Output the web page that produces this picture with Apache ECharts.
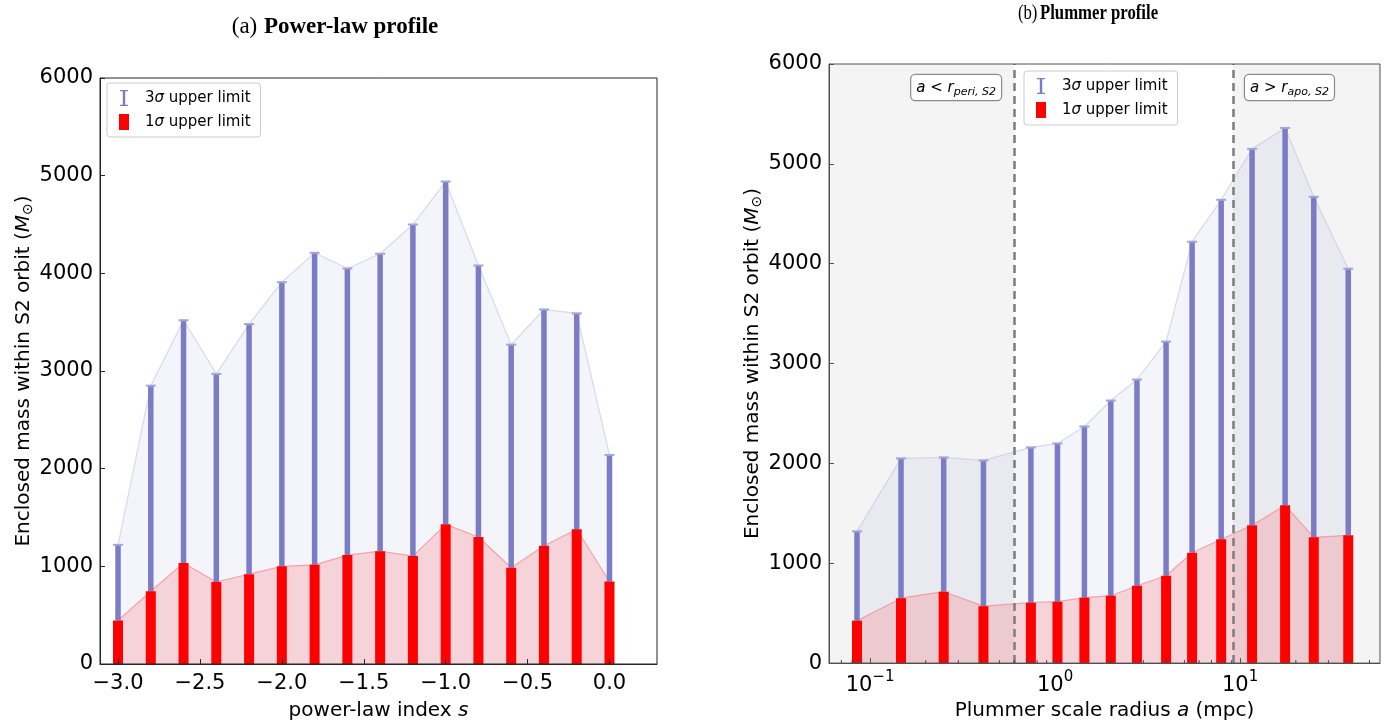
<!DOCTYPE html>
<html>
<head>
<meta charset="utf-8">
<script src="https://cdn.jsdelivr.net/npm/echarts@6/dist/echarts.min.js"></script>
<style>
  html, body { margin: 0; padding: 0; background: #ffffff; }
  #chart { width: 1397px; height: 726px; }
</style>
</head>
<body>
<div id="chart"></div>
<script>
// ---- (a) power-law profile: enclosed mass upper limits vs. power-law index s
const POWER_INDEX = [-3.0, -2.8, -2.6, -2.4, -2.2, -2.0, -1.8, -1.6, -1.4, -1.2, -1.0, -0.8, -0.6, -0.4, -0.2, 0.0];
const LAW_3SIGMA  = [1220, 2850, 3520, 2970, 3480, 3910, 4210, 4050, 4200, 4500, 4940, 4080, 3270, 3630, 3590, 2140];
const LAW_1SIGMA  = [445, 745, 1035, 840, 920, 1000, 1015, 1115, 1155, 1105, 1430, 1300, 985, 1210, 1380, 845];

// ---- (b) Plummer profile: enclosed mass upper limits vs. scale radius a (mpc)
const PLUMMER_A     = [0.085, 0.147, 0.25, 0.41, 0.74, 1.03, 1.44, 2.0, 2.77, 3.98, 5.5, 7.9, 11.6, 17.5, 25, 38.4];
const PLUM_3SIGMA   = [1320, 2050, 2060, 2030, 2160, 2200, 2370, 2630, 2840, 3220, 4220, 4640, 5150, 5360, 4670, 3950];
const PLUM_1SIGMA   = [425, 650, 715, 570, 605, 615, 655, 675, 775, 875, 1105, 1240, 1380, 1580, 1260, 1280];

// S2 pericentre / apocentre distances (mpc)
const R_PERI = 0.6;
const R_APO = 9.15;

// axis ranges and tick positions
const LAW_X_RANGE = [-3.11, 0.29];
const PLUM_X_RANGE = [0.06, 57];
const MASS_RANGE = [0, 6000];
const MASS_STEP = 1000;
const LOG_MINOR_TICKS = [0.07, 0.08, 0.09, 0.2, 0.3, 0.4, 0.5, 0.6, 0.7, 0.8, 0.9,
                         2, 3, 4, 5, 6, 7, 8, 9, 20, 30, 40, 50];

const NAME_3SIG = '3σ upper limit';
const NAME_1SIG = '1σ upper limit';

const BLUE = '#7a7dc4';
const BLUE_CAP = '#a3a5da';
const RED = '#ff0000';
const FONT = 'DejaVu Sans';

const zip3 = (xs, hi, lo) => xs.map((x, i) => [x, hi[i], lo[i]]);
const zip2 = (xs, ys) => xs.map((x, i) => [x, ys[i]]);

// vertical error bar from the 1σ level up to the 3σ level, with a cap
function renderErrorbar(params, api) {
  const x = api.value(0);
  const top = api.coord([x, api.value(1)]);
  const bot = api.coord([x, api.value(2)]);
  const w = 5.5, capW = 10;
  return {
    type: 'group',
    children: [
      { type: 'rect', shape: { x: top[0] - w / 2, y: top[1], width: w, height: bot[1] - top[1] },
        style: { fill: BLUE } },
      { type: 'rect', shape: { x: top[0] - capW / 2, y: top[1] - 1, width: capW, height: 2 },
        style: { fill: BLUE_CAP } }
    ]
  };
}

// solid bar from zero up to the 1σ level
function renderBar(params, api) {
  const x = api.value(0);
  const top = api.coord([x, api.value(1)]);
  const base = api.coord([x, 0]);
  return {
    type: 'rect',
    shape: { x: top[0] - 5, y: top[1], width: 10, height: base[1] - top[1] },
    style: { fill: RED }
  };
}

// short inward minor ticks along the bottom of the log axis
function renderMinorTick(params, api) {
  const p = api.coord([api.value(0), MASS_RANGE[0]]);
  return {
    type: 'line',
    shape: { x1: p[0], y1: p[1], x2: p[0], y2: p[1] - 3 },
    style: { stroke: '#444', lineWidth: 1 }
  };
}

const minus = s => s.replace('-', '\u2212');

function lawTickLabel(v) {
  const k = Math.round(v / 0.5);
  if (Math.abs(v - k * 0.5) > 1e-6) return '';
  return minus((k * 0.5).toFixed(1));
}

function logTickLabel(v) {
  const e = Math.round(Math.log10(v));
  if (Math.abs(v - Math.pow(10, e)) > 1e-6 * Math.pow(10, e)) return '';
  return '{b|10}{e|' + (e < 0 ? '\u2212' + (-e) : e) + '}';
}

const tickLabelRich = {
  b: { fontSize: 21, fontFamily: FONT, color: '#000', lineHeight: 26, verticalAlign: 'bottom' },
  e: { fontSize: 15, fontFamily: FONT, color: '#000', lineHeight: 15, verticalAlign: 'top' }
};

const yNameStyle = {
  fontSize: 20, fontFamily: FONT, color: '#000',
  rich: {
    i: { fontSize: 20, fontFamily: FONT, fontStyle: 'italic', color: '#000', lineHeight: 24, verticalAlign: 'middle' },
    s: { fontSize: 14, fontFamily: FONT, color: '#000', lineHeight: 14, verticalAlign: 'bottom' }
  }
};
const xNameStyle = {
  fontSize: 20, fontFamily: FONT, color: '#000',
  rich: { i: { fontSize: 20, fontFamily: FONT, fontStyle: 'italic', color: '#000' } }
};

function valueYAxis(gridIndex, frameColor) {
  return {
    type: 'value', gridIndex, min: MASS_RANGE[0], max: MASS_RANGE[1], interval: MASS_STEP, z: 10,
    name: 'Enclosed mass within S2 orbit ({i|M}{s|\u2299})',
    nameLocation: 'middle', nameGap: 64, nameTextStyle: yNameStyle,
    axisLine: { show: true, onZero: false, lineStyle: { color: frameColor, width: 1 } },
    axisTick: { show: true, inside: true, length: 5, lineStyle: { color: frameColor } },
    axisLabel: { fontSize: 21, fontFamily: FONT, color: '#000', margin: 7, formatter: v => String(v) },
    splitLine: { show: false }
  };
}

const legendStyle = (left, top) => ({
  left, top, orient: 'vertical',
  backgroundColor: '#ffffff', borderColor: '#cccccc', borderWidth: 1, borderRadius: 3,
  padding: [7, 10, 7, 12], itemGap: 8, itemWidth: 10, itemHeight: 16,
  selectedMode: false,
  data: [
    { name: NAME_3SIG, icon: 'path://M0,0 L8,0 L8,1.2 L5.2,1.2 L5.2,14.8 L8,14.8 L8,16 L0,16 L0,14.8 L2.8,14.8 L2.8,1.2 L0,1.2 Z' },
    { name: NAME_1SIG, icon: 'rect' }
  ],
  formatter: name => name.replace('σ', '{i|σ}'),
  textStyle: {
    fontSize: 15, fontFamily: FONT, color: '#000', padding: [0, 0, 0, 11],
    rich: { i: { fontSize: 15, fontFamily: FONT, fontStyle: 'italic', color: '#000' } }
  }
});

const blueArea = { color: 'rgba(100,100,200,0.10)' };
const blueLine = { color: 'rgba(190,190,228,0.55)', width: 1.2 };
const redArea = { color: 'rgba(255,90,90,0.30)' };
const redLine = { color: 'rgba(245,120,130,0.6)', width: 1.2 };

const chart = echarts.init(document.getElementById('chart'));

chart.setOption({
  animation: false,
  backgroundColor: '#ffffff',
  grid: [
    { left: 100, top: 78, width: 557, height: 588, show: true, z: 10,
      backgroundColor: 'transparent', borderColor: '#262626', borderWidth: 1 },
    { left: 829, top: 64, width: 551, height: 601, show: true, z: 10,
      backgroundColor: 'transparent', borderColor: '#505050', borderWidth: 1 }
  ],
  legend: [legendStyle(107, 83), legendStyle(1024, 71)],
  xAxis: [
    {
      type: 'value', gridIndex: 0, min: LAW_X_RANGE[0], max: LAW_X_RANGE[1], splitNumber: 7, z: 10,
      name: 'power-law index {i|s}', nameLocation: 'middle', nameGap: 37, nameTextStyle: xNameStyle,
      axisLine: { show: true, onZero: false, lineStyle: { color: '#262626' } },
      axisTick: { show: true, inside: true, length: 5, lineStyle: { color: '#262626' } },
      axisLabel: { fontSize: 21, fontFamily: FONT, color: '#000', margin: 9,
                   showMinLabel: false, showMaxLabel: false, formatter: lawTickLabel },
      splitLine: { show: false }
    },
    {
      type: 'log', logBase: 10, gridIndex: 1, min: PLUM_X_RANGE[0], max: PLUM_X_RANGE[1], z: 10,
      name: 'Plummer scale radius {i|a} (mpc)', nameLocation: 'middle', nameGap: 37, nameTextStyle: xNameStyle,
      axisLine: { show: true, onZero: false, lineStyle: { color: '#505050' } },
      axisTick: { show: true, inside: true, length: 5, lineStyle: { color: '#505050' } },
      axisLabel: { margin: 7, showMinLabel: false, showMaxLabel: false,
                   formatter: logTickLabel, rich: tickLabelRich },
      splitLine: { show: false }
    }
  ],
  yAxis: [valueYAxis(0, '#262626'), valueYAxis(1, '#505050')],
  series: [
    // (a) envelopes, error bars, bars
    { type: 'line', xAxisIndex: 0, yAxisIndex: 0, data: zip2(POWER_INDEX, LAW_3SIGMA),
      symbol: 'none', lineStyle: blueLine, areaStyle: blueArea, z: 2, silent: true },
    { type: 'line', xAxisIndex: 0, yAxisIndex: 0, data: zip2(POWER_INDEX, LAW_1SIGMA),
      symbol: 'none', lineStyle: redLine, areaStyle: redArea, z: 3, silent: true },
    { type: 'custom', name: NAME_3SIG, xAxisIndex: 0, yAxisIndex: 0, itemStyle: { color: BLUE },
      data: zip3(POWER_INDEX, LAW_3SIGMA, LAW_1SIGMA), encode: { x: 0, y: [1, 2] },
      renderItem: renderErrorbar, z: 6 },
    { type: 'custom', name: NAME_1SIG, xAxisIndex: 0, yAxisIndex: 0, itemStyle: { color: RED },
      data: zip2(POWER_INDEX, LAW_1SIGMA), encode: { x: 0, y: 1 },
      renderItem: renderBar, z: 7 },

    // (b) shaded regions outside the S2 orbit range, dashed boundaries
    { type: 'line', xAxisIndex: 1, yAxisIndex: 1, data: zip2(PLUMMER_A, PLUM_3SIGMA),
      symbol: 'none', lineStyle: blueLine, areaStyle: blueArea, z: 2, silent: true,
      markArea: {
        silent: true, z: 1,
        itemStyle: { color: '#f4f4f4' },
        data: [
          [{ xAxis: PLUM_X_RANGE[0] }, { xAxis: R_PERI }],
          [{ xAxis: R_APO }, { xAxis: PLUM_X_RANGE[1] }]
        ]
      },
      markLine: {
        silent: true, symbol: 'none', z: 5,
        label: { show: false },
        lineStyle: { color: '#808080', width: 2.6, type: [8, 5] },
        data: [{ xAxis: R_PERI }, { xAxis: R_APO }]
      }
    },
    { type: 'line', xAxisIndex: 1, yAxisIndex: 1, data: zip2(PLUMMER_A, PLUM_1SIGMA),
      symbol: 'none', lineStyle: redLine, areaStyle: redArea, z: 3, silent: true },
    { type: 'custom', name: NAME_3SIG, xAxisIndex: 1, yAxisIndex: 1, itemStyle: { color: BLUE },
      data: zip3(PLUMMER_A, PLUM_3SIGMA, PLUM_1SIGMA), encode: { x: 0, y: [1, 2] },
      renderItem: renderErrorbar, z: 6 },
    { type: 'custom', name: NAME_1SIG, xAxisIndex: 1, yAxisIndex: 1, itemStyle: { color: RED },
      data: zip2(PLUMMER_A, PLUM_1SIGMA), encode: { x: 0, y: 1 },
      renderItem: renderBar, z: 7 },
    { type: 'custom', xAxisIndex: 1, yAxisIndex: 1, silent: true,
      data: LOG_MINOR_TICKS.map(v => [v]), encode: { x: 0 },
      renderItem: renderMinorTick, z: 11 }
  ]
});

// panel titles and the boxed notes beside the S2 orbit boundaries
const peri = chart.convertToPixel({ xAxisIndex: 1, yAxisIndex: 1 }, [R_PERI, MASS_RANGE[1]]);
const apo = chart.convertToPixel({ xAxisIndex: 1, yAxisIndex: 1 }, [R_APO, MASS_RANGE[1]]);

const noteRich = {
  i: { fontSize: 15, fontFamily: FONT, fontStyle: 'italic', color: '#000', lineHeight: 20, verticalAlign: 'middle' },
  n: { fontSize: 15, fontFamily: FONT, color: '#000', lineHeight: 20, verticalAlign: 'middle' },
  s: { fontSize: 11, fontFamily: FONT, fontStyle: 'italic', color: '#000', lineHeight: 11, verticalAlign: 'bottom' }
};
const noteBox = {
  backgroundColor: '#ffffff', borderColor: '#8a8a8a', borderWidth: 1.2, borderRadius: 4,
  padding: [3, 5, 2, 5], rich: noteRich
};
const titleRich = size => ({
  n: { fontSize: size, fontFamily: 'Liberation Serif', color: '#000' },
  b: { fontSize: size, fontFamily: 'Liberation Serif', fontWeight: 'bold', color: '#000' }
});

chart.setOption({
  graphic: [
    { type: 'text', z: 20, x: 335, y: 27,
      style: { text: '{n|(a)}  {b|Power-law profile}', align: 'center', verticalAlign: 'middle', rich: titleRich(23) } },
    { type: 'text', z: 20, x: 1088, y: 13, scaleX: 0.76,
      style: { text: '{n|(b)} {b|Plummer profile}', align: 'center', verticalAlign: 'middle', rich: titleRich(22) } },
    { type: 'text', z: 20, x: peri[0] - 13, y: peri[1] + 11,
      style: Object.assign({ text: '{i|a}{n| < }{i|r}{s|peri, S2}', align: 'right', verticalAlign: 'top' }, noteBox) },
    { type: 'text', z: 20, x: apo[0] + 12, y: apo[1] + 11,
      style: Object.assign({ text: '{i|a}{n| > }{i|r}{s|apo, S2}', align: 'left', verticalAlign: 'top' }, noteBox) }
  ]
});
</script>
</body>
</html>
